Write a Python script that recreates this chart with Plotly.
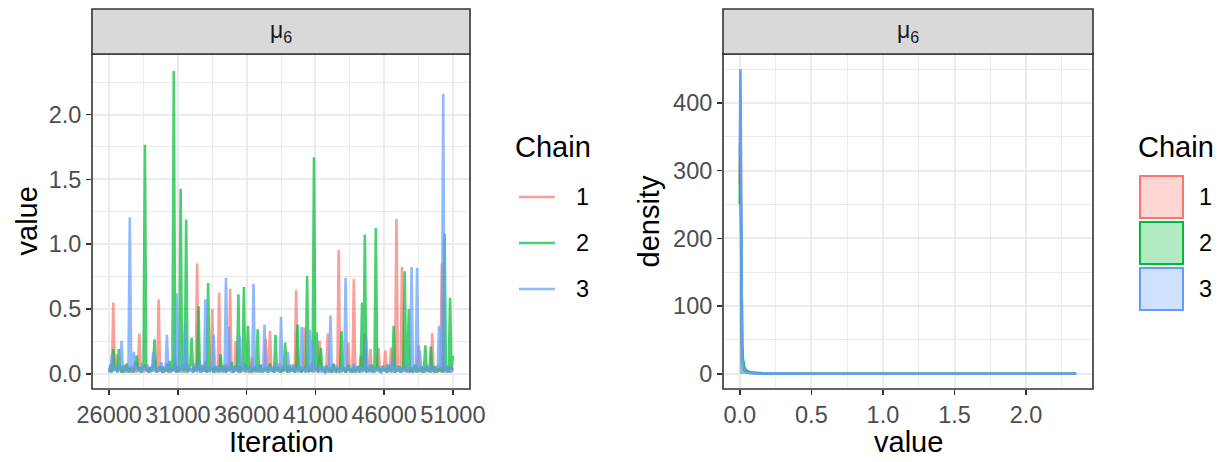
import plotly.graph_objects as go

W, H = 1223, 462

# ---------------- data ----------------
iterations = list(range(26000, 51001, 100))  # 251 points per chain

chain1_values = [
    0.01, 0.04, 0.02, 0.55, 0.03, 0.15, 0.01, 0.05, 0.02, 0.06,
    0.01, 0.03, 0.07, 0.02, 0.04, 0.01, 0.06, 0.02, 0.03, 0.09,
    0.01, 0.05, 0.31, 0.02, 0.04, 0.01, 0.07, 0.03, 0.02, 0.05,
    0.01, 0.06, 0.02, 0.04, 0.11, 0.01, 0.575, 0.03, 0.02, 0.06,
    0.01, 0.04, 0.02, 0.08, 0.01, 0.03, 0.05, 0.02, 0.12, 0.01,
    0.06, 0.02, 0.04, 0.01, 0.07, 0.03, 0.09, 0.01, 0.05, 0.02,
    0.04, 0.01, 0.06, 0.03, 0.85, 0.02, 0.05, 0.01, 0.07, 0.02,
    0.10, 0.01, 0.04, 0.02, 0.06, 0.50, 0.01, 0.05, 0.03, 0.02,
    0.625, 0.01, 0.06, 0.02, 0.04, 0.01, 0.08, 0.03, 0.656, 0.02,
    0.05, 0.01, 0.25, 0.03, 0.02, 0.06, 0.01, 0.04, 0.02, 0.07,
    0.01, 0.05, 0.02, 0.03, 0.13, 0.01, 0.06, 0.02, 0.04, 0.01,
    0.07, 0.03, 0.02, 0.05, 0.27, 0.01, 0.04, 0.33, 0.02, 0.06,
    0.01, 0.03, 0.05, 0.02, 0.08, 0.01, 0.04, 0.02, 0.06, 0.03,
    0.01, 0.05, 0.02, 0.07, 0.03, 0.01, 0.644, 0.02, 0.05, 0.01,
    0.04, 0.02, 0.356, 0.01, 0.06, 0.03, 0.02, 0.08, 0.01, 0.05,
    0.02, 0.04, 0.01, 0.254, 0.03, 0.06, 0.02, 0.01, 0.05, 0.31,
    0.02, 0.04, 0.01, 0.07, 0.03, 0.02, 0.05, 0.954, 0.01, 0.06,
    0.02, 0.04, 0.01, 0.03, 0.24, 0.02, 0.06, 0.01, 0.733, 0.03,
    0.02, 0.05, 0.01, 0.14, 0.03, 0.02, 0.31, 0.01, 0.04, 0.02,
    0.19, 0.01, 0.05, 0.03, 0.02, 0.07, 0.20, 0.01, 0.04, 0.02,
    0.06, 0.18, 0.01, 0.04, 0.02, 0.20, 0.03, 0.01, 0.05, 1.195,
    0.02, 0.04, 0.01, 0.823, 0.03, 0.02, 0.06, 0.01, 0.05, 0.02,
    0.03, 0.01, 0.07, 0.02, 0.04, 0.22, 0.01, 0.05, 0.02, 0.03,
    0.01, 0.06, 0.02, 0.04, 0.01, 0.315, 0.03, 0.02, 0.05, 0.01,
    0.07, 0.02, 0.85, 0.01, 0.04, 0.03, 0.02, 0.06, 0.01, 0.05,
    0.02,
]

chain2_values = [
    0.02, 0.07, 0.01, 0.19, 0.03, 0.05, 0.02, 0.19, 0.04, 0.01,
    0.06, 0.02, 0.03, 0.08, 0.01, 0.05, 0.02, 0.04, 0.01, 0.07,
    0.14, 0.02, 0.05, 0.01, 0.03, 0.06, 1.767, 0.02, 0.04, 0.01,
    0.05, 0.02, 0.07, 0.266, 0.01, 0.04, 0.02, 0.06, 0.03, 0.01,
    0.05, 0.02, 0.08, 0.01, 0.10, 0.03, 0.02, 2.336, 0.04, 0.01,
    0.06, 0.02, 1.428, 0.03, 0.05, 0.01, 1.19, 0.02, 0.04, 0.07,
    0.28, 0.01, 0.05, 0.02, 0.04, 0.52, 0.01, 0.06, 0.03, 0.02,
    0.08, 0.01, 0.70, 0.02, 0.05, 0.03, 0.01, 0.06, 0.02, 0.04,
    0.01, 0.15, 0.03, 0.02, 0.07, 0.01, 0.05, 0.02, 0.04, 0.09,
    0.01, 0.03, 0.06, 0.02, 0.613, 0.01, 0.05, 0.03, 0.67, 0.02,
    0.04, 0.37, 0.01, 0.06, 0.02, 0.03, 0.05, 0.01, 0.344, 0.02,
    0.07, 0.01, 0.04, 0.02, 0.05, 0.03, 0.01, 0.08, 0.02, 0.04,
    0.01, 0.30, 0.02, 0.05, 0.03, 0.01, 0.06, 0.02, 0.24, 0.04,
    0.01, 0.07, 0.02, 0.03, 0.05, 0.01, 0.04, 0.38, 0.02, 0.06,
    0.01, 0.03, 0.05, 0.02, 0.754, 0.01, 0.04, 0.02, 0.07, 1.67,
    0.03, 0.32, 0.01, 0.05, 0.20, 0.02, 0.04, 0.01, 0.06, 0.03,
    0.02, 0.05, 0.01, 0.08, 0.03, 0.02, 0.04, 0.01, 0.06, 0.33,
    0.02, 0.05, 0.01, 0.03, 0.07, 0.02, 0.04, 0.01, 0.05, 0.02,
    0.03, 0.06, 0.01, 0.04, 0.55, 0.02, 1.075, 0.01, 0.05, 0.03,
    0.02, 0.07, 0.01, 0.04, 1.125, 0.02, 0.05, 0.01, 0.03, 0.06,
    0.02, 0.04, 0.01, 0.07, 0.03, 0.02, 0.05, 0.37, 0.01, 0.04,
    0.02, 0.06, 0.01, 0.03, 0.05, 0.79, 0.02, 0.04, 0.50, 0.01,
    0.05, 0.02, 0.03, 0.07, 0.01, 0.04, 0.02, 0.06, 0.01, 0.03,
    0.22, 0.02, 0.05, 0.01, 0.21, 0.03, 0.02, 0.06, 0.01, 0.04,
    0.02, 0.05, 0.01, 0.03, 1.08, 0.02, 0.06, 0.01, 0.587, 0.03,
    0.14,
]

chain3_values = [
    0.03, 0.01, 0.15, 0.04, 0.02, 0.06, 0.01, 0.05, 0.03, 0.254,
    0.02, 0.07, 0.01, 0.04, 0.02, 1.207, 0.05, 0.01, 0.17, 0.03,
    0.06, 0.02, 0.04, 0.01, 0.08, 0.03, 0.05, 0.02, 0.07, 0.01,
    0.04, 0.02, 0.17, 0.03, 0.06, 0.01, 0.05, 0.02, 0.09, 0.01,
    0.04, 0.03, 0.30, 0.02, 0.06, 0.01, 0.05, 0.03, 0.02, 0.62,
    0.04, 0.01, 0.07, 0.02, 0.05, 0.395, 0.03, 0.01, 0.06, 0.02,
    0.04, 0.01, 0.08, 0.03, 0.02, 0.05, 0.10, 0.01, 0.06, 0.02,
    0.575, 0.03, 0.05, 0.01, 0.07, 0.02, 0.30, 0.04, 0.01, 0.06,
    0.02, 0.05, 0.03, 0.01, 0.07, 0.74, 0.02, 0.36, 0.04, 0.01,
    0.06, 0.02, 0.05, 0.03, 0.01, 0.29, 0.04, 0.02, 0.08, 0.01,
    0.05, 0.03, 0.02, 0.06, 0.01, 0.695, 0.04, 0.02, 0.07, 0.01,
    0.05, 0.03, 0.02, 0.38, 0.04, 0.01, 0.06, 0.02, 0.05, 0.03,
    0.01, 0.08, 0.02, 0.04, 0.01, 0.44, 0.03, 0.06, 0.02, 0.05,
    0.17, 0.01, 0.04, 0.03, 0.07, 0.02, 0.05, 0.01, 0.06, 0.03,
    0.36, 0.02, 0.04, 0.01, 0.06, 0.03, 0.34, 0.02, 0.26, 0.01,
    0.05, 0.03, 0.02, 0.07, 0.01, 0.04, 0.02, 0.06, 0.03, 0.01,
    0.05, 0.45, 0.02, 0.04, 0.01, 0.07, 0.03, 0.02, 0.05, 0.01,
    0.06, 0.02, 0.74, 0.03, 0.05, 0.01, 0.04, 0.02, 0.08, 0.01,
    0.05, 0.03, 0.02, 0.06, 0.01, 0.04, 0.02, 0.29, 0.03, 0.01,
    0.07, 0.02, 0.05, 0.01, 0.04, 0.03, 0.06, 0.02, 0.01, 0.05,
    0.03, 0.02, 0.07, 0.01, 0.04, 0.02, 0.12, 0.03, 0.01, 0.06,
    0.02, 0.05, 0.03, 0.01, 0.04, 0.02, 0.07, 0.01, 0.05, 0.03,
    0.823, 0.02, 0.04, 0.01, 0.818, 0.03, 0.18, 0.02, 0.06, 0.01,
    0.04, 0.03, 0.02, 0.07, 0.01, 0.05, 0.02, 0.04, 0.01, 0.06,
    0.37, 0.02, 0.05, 2.16, 0.03, 0.01, 0.06, 0.02, 0.04, 0.01,
    0.05,
]

density_x = [0.0005, 0.002, 0.004, 0.006, 0.008, 0.010, 0.013, 0.016, 0.020, 0.025,
             0.030, 0.040, 0.050, 0.070, 0.100, 0.200, 0.500, 1.000, 1.500, 2.000, 2.350]
density_chain1 = [280, 395, 405, 360, 270, 170, 75, 33, 15, 9, 6, 3.5, 2.2, 1.3, 0.9, 0.4, 0.12, 0.05, 0.02, 0.01, 0.005]
density_chain2 = [250, 339, 330, 290, 230, 160, 85, 45, 25, 15, 10, 6, 4, 2.2, 1.3, 0.5, 0.15, 0.06, 0.03, 0.02, 0.01]
density_chain3 = [320, 445, 450, 400, 300, 190, 80, 35, 16, 9, 6, 3, 2, 1.2, 0.8, 0.3, 0.1, 0.04, 0.02, 0.02, 0.01]

chains = ["1", "2", "3"]
strip_label = "μ<sub>6</sub>"

# ---------------- style ----------------
base = ["#F8766D", "#00BA38", "#619CFF"]
line_alpha = ["rgba(248,118,109,0.7)", "rgba(0,186,56,0.7)", "rgba(97,156,255,0.7)"]
fill_alpha = ["rgba(248,118,109,0.3)", "rgba(0,186,56,0.3)", "rgba(97,156,255,0.3)"]
FONT = "Liberation Sans, Arial, Helvetica, sans-serif"


def px(x):
    return x / W


def py(y):
    return 1 - y / H


L1, R1 = 92, 470
L2, R2 = 723, 1093
TOP, BOT = 54, 389
STRIP_TOP = 9

fig = go.Figure()

trace_series = [chain1_values, chain2_values, chain3_values]
for i, vals in enumerate(trace_series):
    fig.add_trace(go.Scatter(
        x=iterations, y=vals, mode="lines", name=chains[i],
        line=dict(color=line_alpha[i], width=2.6), xaxis="x", yaxis="y",
        showlegend=False, hoverinfo="skip"))

dens_series = [density_chain1, density_chain2, density_chain3]
for i, vals in enumerate(dens_series):
    fig.add_trace(go.Scatter(
        x=density_x, y=vals, mode="lines", name=chains[i], fill="tozeroy",
        fillcolor=fill_alpha[i], line=dict(color=base[i], width=2.6),
        xaxis="x2", yaxis="y2", showlegend=False, hoverinfo="skip"))

grid = "#EBEBEB"
TICK_SIZE = 23.5
axis_common = dict(
    showline=False, zeroline=False, showgrid=True, gridcolor=grid, gridwidth=2,
    ticks="outside", ticklen=5, tickwidth=1.5, tickcolor="#333333", automargin=False,
    tickfont=dict(family=FONT, size=TICK_SIZE, color="#4D4D4D"),
)
minor_common = dict(showgrid=True, gridcolor=grid, gridwidth=1, ticks="")

fig.update_layout(
    template="none",
    width=W, height=H, margin=dict(l=0, r=0, t=0, b=0, autoexpand=False),
    paper_bgcolor="white", plot_bgcolor="white",
    xaxis=dict(domain=[px(L1), px(R1)], range=[24750, 52250], tickvals=[26000, 31000, 36000, 41000, 46000, 51000],
               ticktext=["26000", "31000", "36000", "41000", "46000", "51000"],
               minor=dict(tickvals=[28500, 33500, 38500, 43500, 48500], **minor_common),
               anchor="y", **axis_common),
    yaxis=dict(domain=[py(BOT), py(TOP)], range=[-0.1175, 2.4675], tickvals=[0, 0.5, 1, 1.5, 2],
               ticktext=["0.0", "0.5", "1.0", "1.5", "2.0"],
               minor=dict(tickvals=[0.25, 0.75, 1.25, 1.75, 2.25], **minor_common),
               anchor="x", **axis_common),
    xaxis2=dict(domain=[px(L2), px(R2)], range=[-0.1175, 2.4675], tickvals=[0, 0.5, 1, 1.5, 2],
                ticktext=["0.0", "0.5", "1.0", "1.5", "2.0"],
                minor=dict(tickvals=[0.25, 0.75, 1.25, 1.75, 2.25], **minor_common),
                anchor="y2", **axis_common),
    yaxis2=dict(domain=[py(BOT), py(TOP)], range=[-22.5, 472.5], tickvals=[0, 100, 200, 300, 400],
                ticktext=["0", "100", "200", "300", "400"],
                minor=dict(tickvals=[50, 150, 250, 350, 450], **minor_common),
                anchor="x2", **axis_common),
)

shapes = []
annotations = []
for (l, r) in [(L1, R1), (L2, R2)]:
    shapes.append(dict(type="rect", xref="paper", yref="paper", x0=px(l), x1=px(r), y0=py(BOT), y1=py(TOP),
                       line=dict(color="#333333", width=1.6), fillcolor="rgba(0,0,0,0)", layer="above"))
    shapes.append(dict(type="rect", xref="paper", yref="paper", x0=px(l), x1=px(r), y0=py(TOP), y1=py(STRIP_TOP),
                       line=dict(color="#333333", width=1.6), fillcolor="#D9D9D9", layer="above"))
    annotations.append(dict(text=strip_label, xref="paper", yref="paper", x=px((l + r) / 2), y=py(31),
                            xanchor="center", yanchor="middle", showarrow=False,
                            font=dict(family=FONT, size=23, color="#1A1A1A")))

title_font = dict(family=FONT, size=29, color="black")
annotations += [
    dict(text="Iteration", x=px((L1 + R1) / 2), y=py(442), xref="paper", yref="paper", showarrow=False,
         xanchor="center", yanchor="middle", font=title_font),
    dict(text="value", x=px(26), y=py((TOP + BOT) / 2), xref="paper", yref="paper", showarrow=False,
         xanchor="center", yanchor="middle", textangle=-90, font=title_font),
    dict(text="value", x=px((L2 + R2) / 2), y=py(442), xref="paper", yref="paper", showarrow=False,
         xanchor="center", yanchor="middle", font=title_font),
    dict(text="density", x=px(648), y=py((TOP + BOT) / 2), xref="paper", yref="paper", showarrow=False,
         xanchor="center", yanchor="middle", textangle=-90, font=title_font),
]

label_font = dict(family=FONT, size=TICK_SIZE, color="black")
annotations.append(dict(text="Chain", x=px(513), y=py(147), xref="paper", yref="paper", showarrow=False,
                        xanchor="left", yanchor="middle", font=title_font))
for i, yy in enumerate([197, 243, 289]):
    shapes.append(dict(type="line", xref="paper", yref="paper", x0=px(519), x1=px(555), y0=py(yy), y1=py(yy),
                       line=dict(color=line_alpha[i], width=2.5)))
    annotations.append(dict(text=chains[i], x=px(574), y=py(yy), xref="paper", yref="paper", showarrow=False,
                            xanchor="left", yanchor="middle", font=label_font))

annotations.append(dict(text="Chain", x=px(1136), y=py(147), xref="paper", yref="paper", showarrow=False,
                        xanchor="left", yanchor="middle", font=title_font))
for i, (y0, y1) in enumerate([(176, 218), (222, 264), (268, 310)]):
    shapes.append(dict(type="rect", xref="paper", yref="paper", x0=px(1140), x1=px(1183), y0=py(y1), y1=py(y0),
                       line=dict(color=base[i], width=2), fillcolor=fill_alpha[i]))
    annotations.append(dict(text=chains[i], x=px(1197), y=py((y0 + y1) / 2), xref="paper", yref="paper",
                            showarrow=False, xanchor="left", yanchor="middle", font=label_font))

fig.update_layout(shapes=shapes, annotations=annotations)
fig.write_html("out.html", config={"displayModeBar": False, "staticPlot": True},
               post_script="document.body.style.margin='0px';document.body.style.padding='0px';"
                           "document.body.style.overflow='hidden';")
